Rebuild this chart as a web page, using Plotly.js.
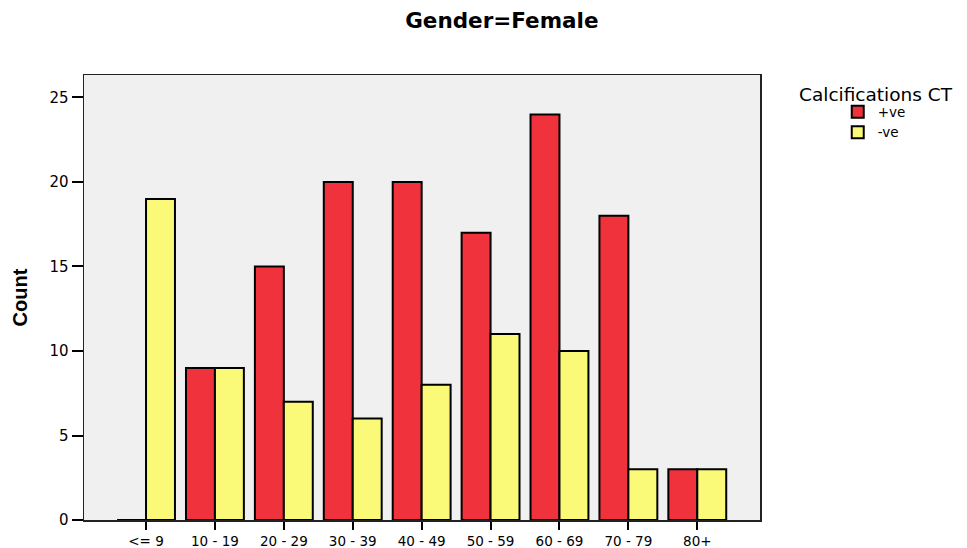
<!DOCTYPE html>
<html><head><meta charset="utf-8">
<script src="https://cdn.plot.ly/plotly-3.0.1.min.js"></script>
<style>html,body{margin:0;padding:0;background:#fff}</style>
</head><body>
<div id="chart" style="width:967px;height:548px"></div>
<script>
const categories = ["<= 9", "10 - 19", "20 - 29", "30 - 39", "40 - 49", "50 - 59", "60 - 69", "70 - 79", "80+"];
const positive = [0, 9, 15, 20, 20, 17, 24, 18, 3];
const negative = [19, 9, 7, 6, 8, 11, 10, 3, 3];
const seriesNames = ["+ve", "-ve"];

const idx = categories.map((c, i) => i);
const font = "DejaVu Sans, Liberation Sans, Arial, sans-serif";

const traces = [
  {type: "bar", name: seriesNames[0], x: idx, y: positive,
   marker: {color: "#f0323c", line: {color: "#000", width: 2}}},
  {type: "bar", name: seriesNames[1], x: idx, y: negative,
   marker: {color: "#fafa78", line: {color: "#000", width: 2}}}
];

const layout = {
  width: 967, height: 548,
  margin: {l: 84, r: 207, t: 75, b: 28},
  paper_bgcolor: "#fff", plot_bgcolor: "#f0f0f0",
  barmode: "group", bargap: 0.16, bargroupgap: 0,
  title: {text: "Gender=Female", font: {family: font, size: 21.5, color: "#000", weight: "bold"},
          x: 0.519, xanchor: "center", y: 0.962, yanchor: "middle"},
  xaxis: {range: [-0.9, 8.91], tickmode: "array", tickvals: idx, ticktext: categories,
          ticks: "outside", ticklen: 8, tickwidth: 2, tickcolor: "#000",
          showline: true, linecolor: "#222", linewidth: 1.5, mirror: true,
          showgrid: false, zeroline: false, fixedrange: true,
          tickfont: {family: font, size: 13.5, color: "#000"}},
  yaxis: {range: [0, 26.33], tickvals: [0, 5, 10, 15, 20, 25],
          ticks: "outside", ticklen: 11, tickwidth: 2, tickcolor: "#000",
          showline: true, linecolor: "#222", linewidth: 1.5, mirror: true,
          showgrid: false, zeroline: false,
          tickfont: {family: font, size: 15, color: "#000"},
          title: {text: "Count", font: {family: "Liberation Sans Narrow, Arial Narrow, sans-serif", size: 20, color: "#000", weight: "bold"}, standoff: 16}},
  showlegend: true,
  legend: {x: 1.115, y: 0.952, xanchor: "left", yanchor: "top", bgcolor: "rgba(0,0,0,0)",
           font: {family: font, size: 13.5, color: "#000"}, tracegroupgap: 0, itemwidth: 30},
  annotations: [{text: "Calcifications CT", xref: "paper", yref: "paper", x: 1.055, y: 0.957,
                 xanchor: "left", yanchor: "middle", showarrow: false,
                 font: {family: font, size: 18.5, color: "#000"}}]
};

Plotly.newPlot("chart", traces, layout, {displayModeBar: false, staticPlot: true});
</script>
</body></html>
